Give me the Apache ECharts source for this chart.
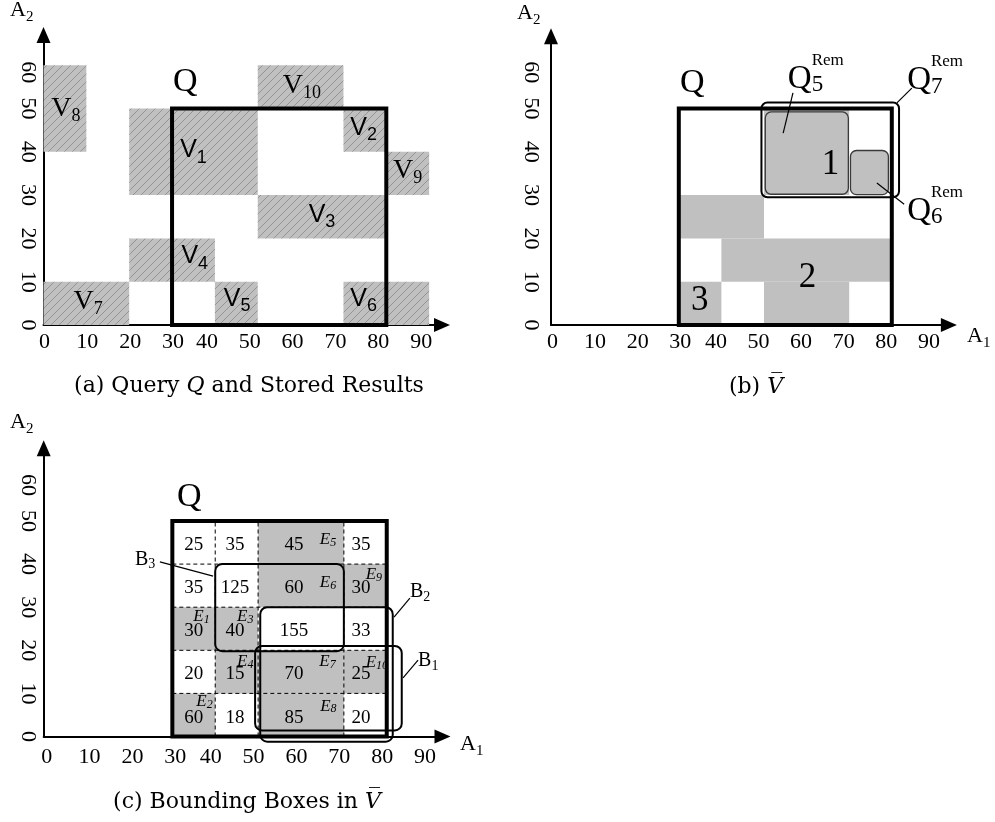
<!DOCTYPE html>
<html>
<head>
<meta charset="utf-8">
<title>Query Q, stored results and bounding boxes</title>
<script src="https://cdn.jsdelivr.net/npm/echarts@6/dist/echarts.min.js"></script>
<style>
  html, body { margin: 0; padding: 0; background: #fff; }
  #chart { width: 995px; height: 822px; }
</style>
</head>
<body>
<div id="chart"></div>
<script>
// ---------- data: attribute ranges on A1 (x) and A2 (y) ----------
const tickValues = [0, 10, 20, 30, 40, 50, 60, 70, 80, 90];

// the query box, shared by all three panels: [a1From, a1To, a2From, a2To]
const queryBox = [30, 80, 0, 50];
const queryLabelAt = [[30.2, 56], [30.3, 55.9], [31.1, 55.6]];

// (a) stored results V1..V10
const storedIds = ['1', '2', '3', '4', '5', '6', '7', '8', '9', '10'];
const storedBoxes = [
  [20, 50, 30, 50], [70, 80, 40, 50], [50, 80, 20, 30], [20, 40, 10, 20], [40, 50, 0, 10],
  [70, 90, 0, 10], [0, 20, 0, 10], [0, 10, 40, 60], [80, 90, 30, 40], [50, 70, 50, 60]
];
const storedLabelAt = [
  [35, 40.4], [74.7, 45.5], [65, 25.4], [35.3, 15.9], [45.2, 6],
  [74.7, 6], [10.4, 5.3], [5.2, 50], [85, 35.6], [60.3, 55.2]
];

// (b) the uncovered part of Q and the remainder queries
const uncoveredCells = [[30, 50, 20, 30], [40, 80, 10, 20], [50, 70, 0, 10], [30, 40, 0, 10], [50, 70, 30, 50]];
const regionIds = ['1', '2', '3'];
const regionLabelAt = [[65.6, 36.9], [60.2, 10.8], [34.9, 5.7]];
const remainderIds = ['5', '6', '7'];
const remainderBoxes = [[50.3, 69.8, 30.2, 49.2], [70.3, 79.2, 30.1, 40.3], [49.4, 81.7, 29.5, 51.4]];
const remainderLabelAt = [[55.6, 56.8], [83.6, 26.3], [83.6, 56.4]];
const remainderLeaders = [
  [[56.8, 53.6], [54.5, 44.3]],
  [[76.5, 32.8], [82.9, 27.9]],
  [[81.2, 51.3], [84.7, 54.7]]
];

// (c) per-cell counts inside Q; shaded cells carry an E tag
const cellColumns = [[30, 40], [40, 50], [50, 70], [70, 80]];
const cellRows = [[40, 50], [30, 40], [20, 30], [10, 20], [0, 10]];
const cellCounts = [
  [25, 35, 45, 35],
  [35, 125, 60, 30],
  [30, 40, 155, 33],
  [20, 15, 70, 25],
  [60, 18, 85, 20]
];
const cellTags = [
  ['', '', '5', ''],
  ['', '', '6', '9'],
  ['1', '3', '', ''],
  ['', '4', '7', '10'],
  ['2', '', '8', '']
];
const cellTagAt = [
  [null, null, [66.3, 45.6], null],
  [null, null, [66.3, 35.7], [77, 37.5]],
  [[36.8, 27.8], [47, 27.8], null, null],
  [null, [47, 17.4], [66.2, 17.4], [77.7, 17.2]],
  [[37.5, 8.1], null, [66.4, 7], null]
];
const boundingIds = ['1', '2', '3'];
const boundingBoxes = [[49.3, 83.5, 1.4, 21], [50.5, 81.4, -1.2, 30], [40, 70, 19.8, 40]];
const boundingLabelAt = [[87.3, 17.5], [85.4, 33.5], [21.3, 41]];
const boundingLeaders = [
  [[83.8, 13.6], [87.3, 17.7]],
  [[81.7, 27.7], [85.4, 32.1]],
  [[27.1, 40.5], [39.5, 37.2]]
];

// ---------- styles and layout ----------
const SERIF = "'Liberation Serif', 'Times New Roman', serif";
const SANS = "'Liberation Sans', Arial, sans-serif";
const CAPTION_FONT = "'DejaVu Serif', serif";
const INK = '#000';
const SHADE = '#c0c0c0';

// pixel frame of each panel: origin, px per unit, axis extent
const frames = [
  { x0: 43.5, xs: 4.285, xMax: 93,   y0: 325,   ys: 4.33, yMax: 67,   nudge: [1, -8],     xMargin: 6,  yMargin: 5 },
  { x0: 551,  xs: 4.26,  xMax: 93.4, y0: 325,   ys: 4.33, yMax: 66.7, nudge: [1.5, -5.5], xMargin: 6,  yMargin: 9 },
  { x0: 43.7, xs: 4.288, xMax: 93,   y0: 736.5, ys: 4.31, yMax: 66.9, nudge: [3, -4.5],   xMargin: 10, yMargin: 5 }
];
// where counts sit inside a column of panel (c)
const countAnchorX = [35, 44.6, 58.4, 74];
// serif lettering for the later stored results
const storedFamily = i => (i >= 6 ? SERIF : SANS);

const measureCtx = document.createElement('canvas').getContext('2d');
function textWidth(text, font) { measureCtx.font = font; return measureCtx.measureText(text).width; }
function cssFont(size, family, italic) { return (italic ? 'italic ' : '') + size + 'px ' + family; }

function textEl(text, x, y, font, align) {
  return {
    type: 'text', silent: true,
    style: { text: String(text), x, y, font, fill: INK, align: align || 'left', verticalAlign: 'middle' }
  };
}

// base glyph followed by an optional subscript and a stacked superscript
function scripted(x, y, s) {
  const baseFont = cssFont(s.size, s.family, s.italic);
  const subFont = cssFont(s.subSize, s.family, s.italic);
  const supFont = cssFont(s.supSize || s.subSize, s.family, false);
  const wBase = textWidth(s.base, baseFont);
  const wSub = s.sub ? textWidth(s.sub, subFont) : 0;
  const left = s.center ? x - (wBase + wSub) / 2 : x;
  const kids = [textEl(s.base, left, y, baseFont)];
  if (s.sub) kids.push(textEl(s.sub, left + wBase, y + s.subDy, subFont));
  if (s.sup) kids.push(textEl(s.sup, left + wBase, y + s.supDy, supFont));
  return { type: 'group', children: kids };
}

// diagonal hatch used for stored results
const hatchTile = (() => {
  const c = document.createElement('canvas');
  c.width = 8; c.height = 8;
  const g = c.getContext('2d');
  g.fillStyle = SHADE; g.fillRect(0, 0, 8, 8);
  g.strokeStyle = '#8e8e8e'; g.lineWidth = 0.9;
  g.beginPath();
  g.moveTo(-1, 9); g.lineTo(9, -1);
  g.moveTo(-1, 1); g.lineTo(1, -1);
  g.moveTo(7, 9); g.lineTo(9, 7);
  g.stroke();
  return c;
})();
const hatchFill = { image: hatchTile, repeat: 'repeat' };

function rectFrom(api) {
  const tl = api.coord([api.value(0), api.value(3)]);
  const br = api.coord([api.value(1), api.value(2)]);
  return { x: tl[0], y: tl[1], width: br[0] - tl[0], height: br[1] - tl[1] };
}

function boxSeries(gi, boxes, style, z, radius) {
  return {
    type: 'custom', xAxisIndex: gi, yAxisIndex: gi, z, silent: true,
    data: boxes.map((b, i) => [b[0], b[1], b[2], b[3], i]),
    renderItem: (params, api) => {
      const shape = rectFrom(api);
      if (radius) shape.r = radius;
      const st = typeof style === 'function' ? style(api.value(4)) : style;
      return { type: 'rect', shape, style: st };
    }
  };
}

function labelSeries(gi, points, build, z) {
  return {
    type: 'custom', xAxisIndex: gi, yAxisIndex: gi, z: z || 6, silent: true,
    data: points.map((p, i) => [p[0], p[1], i]),
    renderItem: (params, api) => {
      const pt = api.coord([api.value(0), api.value(1)]);
      return build(api.value(2), pt[0], pt[1]);
    }
  };
}

function leaderSeries(gi, segments) {
  return {
    type: 'custom', xAxisIndex: gi, yAxisIndex: gi, z: 6, silent: true,
    data: segments.map(s => [s[0][0], s[0][1], s[1][0], s[1][1]]),
    renderItem: (params, api) => {
      const a = api.coord([api.value(0), api.value(1)]);
      const b = api.coord([api.value(2), api.value(3)]);
      return { type: 'line', shape: { x1: a[0], y1: a[1], x2: b[0], y2: b[1] }, style: { stroke: INK, lineWidth: 1.2 } };
    }
  };
}

function queryLabel(gi) {
  return labelSeries(gi, [queryLabelAt[gi]], (i, x, y) => textEl('Q', x, y, cssFont(34, SERIF)), 6);
}

// ---------- axes ----------
const tickStyle = { fontFamily: SERIF, fontSize: 22, color: INK };
function padX(d) { return d < 0 ? [0, -2 * d, 0, 0] : [0, 0, 0, 2 * d]; }

const grids = frames.map(f => ({
  left: f.x0, top: f.y0 - f.ys * f.yMax, width: f.xs * f.xMax, height: f.ys * f.yMax,
  containLabel: false, outerBoundsMode: 'none'
}));
const axisLineStyle = {
  show: true, onZero: false,
  lineStyle: { color: INK, width: 2 },
  symbol: ['none', 'triangle'], symbolSize: [14, 16]
};
const xAxes = frames.map((f, gi) => ({
  type: 'value', gridIndex: gi, min: 0, max: f.xMax, interval: 10,
  axisLine: axisLineStyle, axisTick: { show: false }, splitLine: { show: false },
  axisLabel: {
    margin: f.xMargin, showMaxLabel: false, ...tickStyle,
    formatter: v => (tickValues.includes(v) ? '{' + (v < 35 ? 'lo' : 'hi') + '|' + v + '}' : ''),
    rich: { lo: { ...tickStyle, padding: padX(f.nudge[0]) }, hi: { ...tickStyle, padding: padX(f.nudge[1]) } }
  }
}));
const yAxes = frames.map((f, gi) => ({
  type: 'value', gridIndex: gi, min: 0, max: f.yMax, interval: 10,
  axisLine: axisLineStyle, axisTick: { show: false }, splitLine: { show: false },
  axisLabel: {
    rotate: -90, margin: f.yMargin, showMaxLabel: false, ...tickStyle,
    formatter: v => (v === 60 ? '{dn|60}' : (tickValues.includes(v) ? '{n|' + v + '}' : '')),
    rich: { n: { ...tickStyle }, dn: { ...tickStyle, padding: [0, 0, 0, 14] } }
  }
}));

// ---------- panel (a) ----------
const panelA = [
  boxSeries(0, storedBoxes, { fill: hatchFill, stroke: null }, 1),
  boxSeries(0, [queryBox], { fill: null, stroke: INK, lineWidth: 4 }, 3),
  labelSeries(0, storedLabelAt, (i, x, y) => {
    const serif = storedFamily(i) === SERIF;
    return scripted(x, y, {
      base: 'V', sub: storedIds[i], family: storedFamily(i), center: true,
      size: serif ? 28 : 25, subSize: 18, subDy: 7.5
    });
  }),
  queryLabel(0)
];

// ---------- panel (b) ----------
const panelB = [
  boxSeries(1, uncoveredCells, { fill: SHADE, stroke: null }, 1),
  boxSeries(1, [queryBox], { fill: null, stroke: INK, lineWidth: 4 }, 3),
  boxSeries(1, remainderBoxes, i => (i < 2
    ? { fill: SHADE, stroke: '#3a3a3a', lineWidth: 1.3 }
    : { fill: null, stroke: INK, lineWidth: 2 }), 4, 6),
  leaderSeries(1, remainderLeaders),
  labelSeries(1, regionLabelAt, (i, x, y) => textEl(regionIds[i], x, y, cssFont(35, SERIF), 'center')),
  labelSeries(1, remainderLabelAt, (i, x, y) => scripted(x, y, {
    base: 'Q', sub: remainderIds[i], sup: 'Rem', family: SERIF,
    size: 33, subSize: 23, supSize: 17, subDy: 6, supDy: -19
  })),
  queryLabel(1)
];

// ---------- panel (c) ----------
const cellList = [];
cellRows.forEach((row, r) => cellColumns.forEach((col, c) => cellList.push([col[0], col[1], row[0], row[1], r, c])));

const xLo = Math.min(...cellColumns.flat()), xHi = Math.max(...cellColumns.flat());
const yLo = Math.min(...cellRows.flat()), yHi = Math.max(...cellRows.flat());
const dividers = [];
cellColumns.forEach(col => { if (col[0] > xLo) dividers.push([col[0], yLo, col[0], yHi]); });
cellRows.forEach(row => { if (row[0] > yLo) dividers.push([xLo, row[0], xHi, row[0]]); });

const panelC = [
  {
    type: 'custom', xAxisIndex: 2, yAxisIndex: 2, z: 1, silent: true,
    data: cellList,
    renderItem: (params, api) => {
      const r = api.value(4), c = api.value(5);
      const tag = cellTags[r][c];
      const kids = [];
      if (tag) kids.push({ type: 'rect', shape: rectFrom(api), style: { fill: SHADE, stroke: null } });
      const row = cellRows[r];
      const n = api.coord([countAnchorX[c], (row[0] + row[1]) / 2 - 0.6]);
      kids.push(textEl(cellCounts[r][c], n[0], n[1], cssFont(19, SERIF), 'center'));
      if (tag) {
        const t = api.coord(cellTagAt[r][c]);
        kids.push(scripted(t[0], t[1], {
          base: 'E', sub: tag, family: SERIF, italic: true, center: true,
          size: 17, subSize: 12, subDy: 3
        }));
      }
      return { type: 'group', children: kids };
    }
  },
  {
    type: 'custom', xAxisIndex: 2, yAxisIndex: 2, z: 2, silent: true,
    data: dividers,
    renderItem: (params, api) => {
      const a = api.coord([api.value(0), api.value(1)]);
      const b = api.coord([api.value(2), api.value(3)]);
      return { type: 'line', shape: { x1: a[0], y1: a[1], x2: b[0], y2: b[1] },
        style: { stroke: INK, lineWidth: 1, lineDash: [4, 3] } };
    }
  },
  boxSeries(2, [queryBox], { fill: null, stroke: INK, lineWidth: 4 }, 3),
  boxSeries(2, boundingBoxes, { fill: null, stroke: INK, lineWidth: 2 }, 4, 7),
  leaderSeries(2, boundingLeaders),
  labelSeries(2, boundingLabelAt, (i, x, y) => scripted(x, y, {
    base: 'B', sub: boundingIds[i], family: SERIF, size: 20, subSize: 14, subDy: 5
  })),
  queryLabel(2)
];

// ---------- axis names and captions ----------
function axisName(sub, x, y) {
  return scripted(x, y, { base: 'A', sub, family: SERIF, size: 22, subSize: 15, subDy: 7 });
}
function caption(text, x, y) {
  const base = { fontFamily: CAPTION_FONT, fontSize: 22, fill: INK };
  return {
    type: 'text', silent: true,
    style: { text, x, y, ...base, align: 'center', verticalAlign: 'middle',
      rich: { t: { ...base }, i: { ...base, fontStyle: 'italic' } } }
  };
}

const chart = echarts.init(document.getElementById('chart'), null, { renderer: 'canvas' });
chart.setOption({
  animation: false,
  backgroundColor: '#fff',
  grid: grids,
  xAxis: xAxes,
  yAxis: yAxes,
  series: [...panelA, ...panelB, ...panelC],
  graphic: [
    axisName('2', 10, 10),
    axisName('2', 517, 13.5),
    axisName('1', 967, 336),
    axisName('2', 10, 422),
    axisName('1', 460, 744),
    caption('{t|(a) Query }{i|Q}{t| and Stored Results}', 249, 386),
    caption('{t|(b) }{i|V\u0305}', 756, 387),
    caption('{t|(c) Bounding Boxes in }{i|V\u0305}', 247, 802)
  ]
});
</script>
</body>
</html>
